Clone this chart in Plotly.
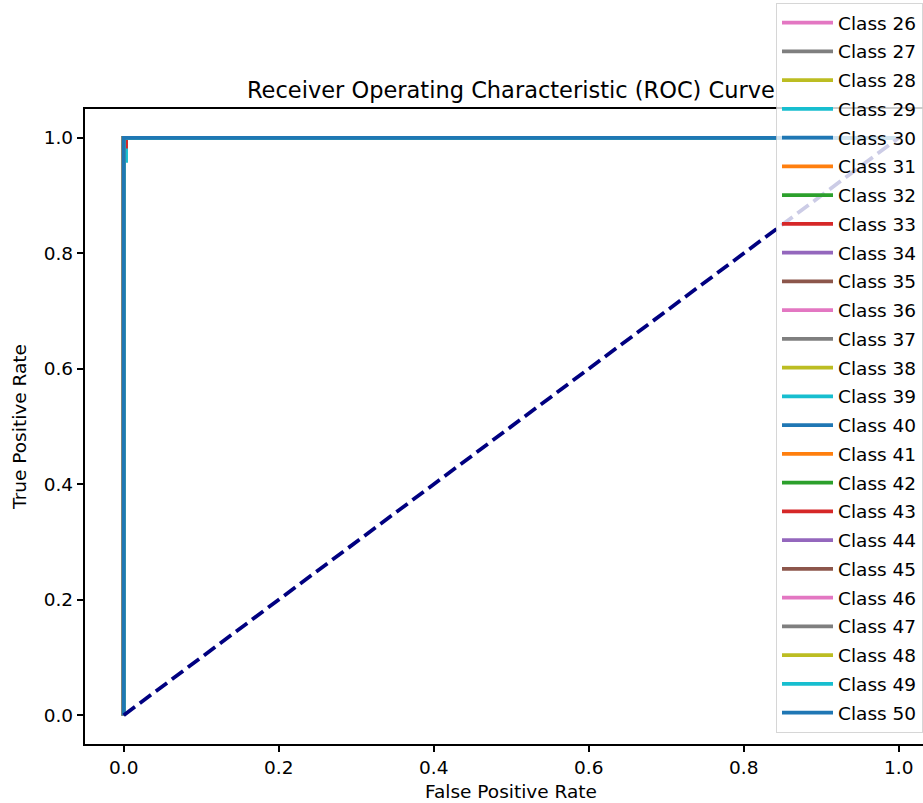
import plotly.graph_objects as go

# ---- data ----
class_ids = list(range(1, 51))
legend_classes = list(range(26, 51))   # entries visible in the (cropped) legend
perfect_fpr = [0.0, 0.0, 1.0]
perfect_tpr = [0.0, 1.0, 1.0]
# classes with a tiny imperfection near the top-left corner
class39_fpr = [0.0, 0.0, 0.003, 0.003, 1.0]
class39_tpr = [0.0, 0.96, 0.96, 1.0, 1.0]
class43_fpr = [0.0, 0.0, 0.003, 0.003, 1.0]
class43_tpr = [0.0, 0.985, 0.985, 1.0, 1.0]
chance_x = [0.0, 1.0]
chance_y = [0.0, 1.0]
tick_vals = [0.0, 0.2, 0.4, 0.6, 0.8, 1.0]
tick_text = ["0.0", "0.2", "0.4", "0.6", "0.8", "1.0"]

tab10 = ['#1f77b4', '#ff7f0e', '#2ca02c', '#d62728', '#9467bd',
         '#8c564b', '#e377c2', '#7f7f7f', '#bcbd22', '#17becf']

special = {39: (class39_fpr, class39_tpr), 43: (class43_fpr, class43_tpr)}

W, H = 923, 803
ML, MR, MT, MB = 85, 0, 109, 59
FONT = "DejaVu Sans"

fig = go.Figure()
for k in class_ids:
    fx, fy = special.get(k, (perfect_fpr, perfect_tpr))
    fig.add_trace(go.Scatter(
        x=fx, y=fy, mode="lines", name=f"Class {k}",
        legendgroup=f"c{k}", showlegend=(k in legend_classes),
        line=dict(color=tab10[k % 10], width=3.75),
        hoverinfo="skip"))

fig.add_trace(go.Scatter(
    x=chance_x, y=chance_y, mode="lines", showlegend=False,
    line=dict(color="#000080", width=3.75, dash="14px,6px"),
    hoverinfo="skip"))

pw = W - ML - MR
ph = H - MT - MB
xr0 = -0.05
xr1 = xr0 + pw / 775.0

axis_common = dict(
    showgrid=False, zeroline=False, showline=True, linecolor="black",
    linewidth=1.5, ticks="outside", ticklen=6.5, tickwidth=1.5,
    tickcolor="black", tickfont=dict(family=FONT, size=18.5, color="#000"),
    tickvals=tick_vals, ticktext=tick_text)

fig.update_layout(
    width=W, height=H,
    margin=dict(l=ML, r=MR, t=MT, b=MB, autoexpand=False),
    paper_bgcolor="white", plot_bgcolor="white",
    font=dict(family=FONT, color="#000"),
    xaxis=dict(range=[xr0, xr1], mirror=True, **axis_common),
    yaxis=dict(range=[-0.05, 1.05], mirror=False,
               title=dict(text="True Positive Rate",
                          font=dict(family=FONT, size=18.5, color="#000"),
                          standoff=12),
               **axis_common),
    legend=dict(
        x=(776 - ML) / pw, xanchor="left", xref="paper",
        y=(H - MB - 733) / ph, yanchor="bottom", yref="paper",
        bgcolor="rgba(255,255,255,0.8)",
        bordercolor="rgba(204,204,204,0.8)", borderwidth=1,
        font=dict(family=FONT, size=18.5, color="#000"),
        traceorder="grouped", tracegroupgap=1.7, itemwidth=51,
        maxheight=3000),
    annotations=[
        dict(text="Receiver Operating Characteristic (ROC) Curve",
             xref="paper", yref="paper", x=(510.5 - ML) / pw,
             y=(H - MB - 90) / ph, xanchor="center", yanchor="middle",
             showarrow=False,
             font=dict(family=FONT, size=22.5, color="#000")),
        dict(text="False Positive Rate",
             xref="paper", yref="paper", x=(510.5 - ML) / pw,
             y=(H - MB - 791) / ph, xanchor="center", yanchor="middle",
             showarrow=False,
             font=dict(family=FONT, size=18.5, color="#000")),
    ],
)

fig.write_html("out.html")
